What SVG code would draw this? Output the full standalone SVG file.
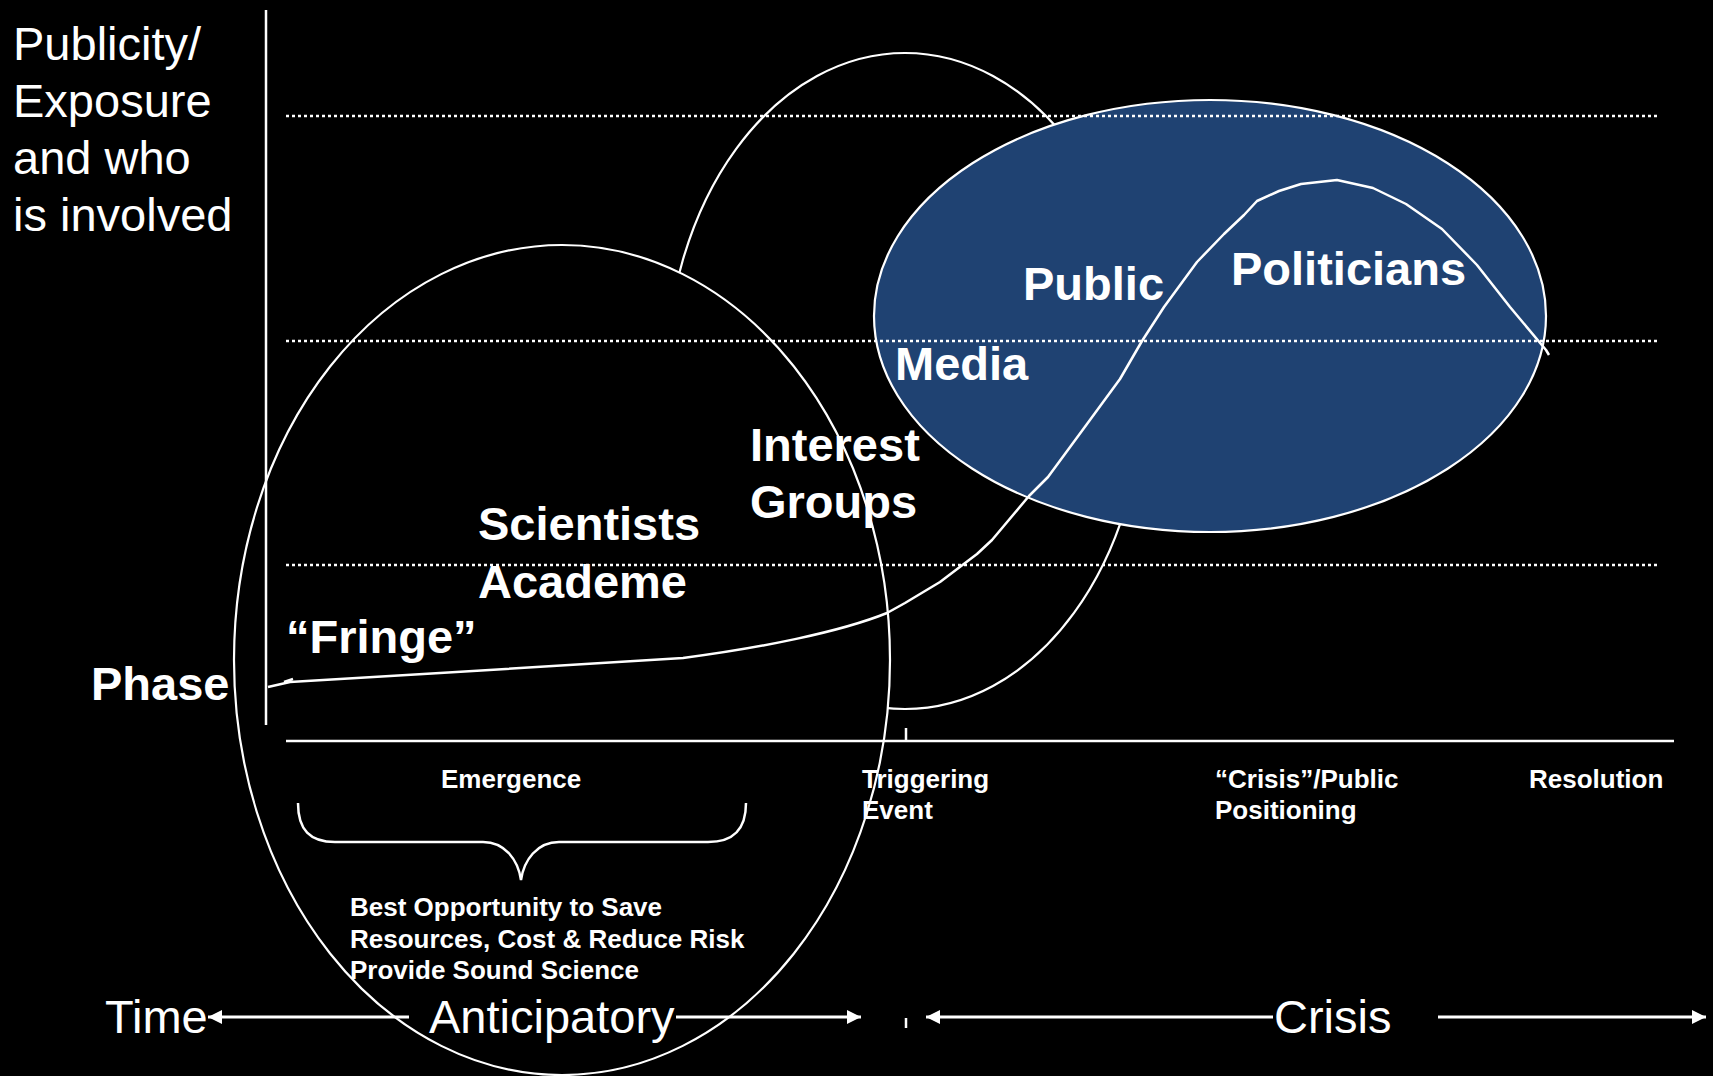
<svg xmlns="http://www.w3.org/2000/svg" width="1713" height="1076" viewBox="0 0 1713 1076">
  <style>
    text { font-family: "Liberation Sans", Arial, sans-serif; fill: #ffffff; }
    .big { font-size: 47px; }
    .bigb { font-size: 47px; font-weight: bold; }
    .small { font-size: 26px; font-weight: bold; }
    .outline { stroke: #ffffff; stroke-width: 2.2; }
    .dot { stroke: #ffffff; stroke-width: 2.5; stroke-dasharray: 3 3; fill: none; }
    .solid { stroke: #ffffff; stroke-width: 2.5; fill: none; }
    .arrow { stroke: #ffffff; stroke-width: 3; fill: none; marker-end: url(#head); }
  </style>
  <defs>
    <marker id="head" viewBox="0 0 14 14" refX="14" refY="7" markerWidth="14" markerHeight="14" markerUnits="userSpaceOnUse" orient="auto">
      <path d="M0,0 L14,7 L0,14 z" fill="#ffffff"/>
    </marker>
  </defs>
  <rect x="0" y="0" width="1713" height="1076" fill="#000000"/>

  <g id="interest-groups-ellipse">
    <ellipse class="outline" cx="905" cy="381" rx="239" ry="328" fill="#000000"/>
  </g>
  <g id="scientists-ellipse">
    <ellipse class="outline" cx="562" cy="660" rx="328" ry="415" fill="#000000"/>
  </g>
  <g id="public-ellipse">
    <ellipse class="outline" cx="1210" cy="316" rx="336" ry="216" fill="#1f4272"/>
  </g>

  <g id="axes">
    <line class="solid" x1="266" y1="10" x2="266" y2="725"/>
    <line class="solid" x1="286" y1="741" x2="1674" y2="741"/>
    <line class="solid" x1="906" y1="728" x2="906" y2="741" stroke-width="2"/>
    <line class="solid" x1="906" y1="1018" x2="906" y2="1028" stroke-width="2"/>
    <line class="dot" x1="286" y1="116" x2="1658" y2="116"/>
    <line class="dot" x1="286" y1="341" x2="1658" y2="341"/>
    <line class="dot" x1="286" y1="565" x2="1658" y2="565"/>
  </g>

  <g id="connectors">
    <path class="solid" stroke-linejoin="round" d="M268,687 L290,682 L440,673 L683,658 C760,648 840,632 887,613 L905,603 L940,582 L977,554 L992,540 L1029,496 L1048,477 L1087,424 L1120,379 L1142,341 L1164,307 L1197,262 L1224,234 L1244,215 L1257,201 L1279,191 L1301,184 L1337,180 L1373,188 L1406,204 L1442,229 L1477,265 L1510,307 L1546,350 L1549,355"/>
    <line class="solid" x1="284" y1="682" x2="293" y2="679" stroke-width="2"/>
    <path class="solid" stroke-width="2.5" d="M298,803 C298,830 310,842 335,842 L483,842 C505,842 518,860 521,880 C524,860 537,842 559,842 L708,842 C733,842 746,830 746,803"/>
    <line class="arrow" x1="409" y1="1017" x2="208" y2="1017"/>
    <line class="arrow" x1="676" y1="1017" x2="861" y2="1017"/>
    <line class="arrow" x1="1273" y1="1017" x2="926" y2="1017"/>
    <line class="arrow" x1="1438" y1="1017" x2="1706" y2="1017"/>
  </g>

  <g id="y-label">
    <text class="big" x="13" y="60">Publicity/</text>
    <text class="big" x="13" y="117">Exposure</text>
    <text class="big" x="13" y="174">and who</text>
    <text class="big" x="13" y="231">is involved</text>
  </g>

  <g id="actors">
    <text class="bigb" x="1023" y="300">Public</text>
    <text class="bigb" x="1231" y="285">Politicians</text>
    <text class="bigb" x="895" y="380">Media</text>
    <text class="bigb" x="750" y="461">Interest</text>
    <text class="bigb" x="750" y="518">Groups</text>
    <text class="bigb" x="478" y="540">Scientists</text>
    <text class="bigb" x="478" y="598">Academe</text>
    <text class="bigb" x="286" y="653">“Fringe”</text>
    <text class="bigb" x="91" y="700">Phase</text>
  </g>

  <g id="phases">
    <text class="small" x="441" y="788">Emergence</text>
    <text class="small" x="862" y="788">Triggering</text>
    <text class="small" x="862" y="819">Event</text>
    <text class="small" x="1215" y="788">“Crisis”/Public</text>
    <text class="small" x="1215" y="819">Positioning</text>
    <text class="small" x="1529" y="788">Resolution</text>
  </g>

  <g id="opportunity">
    <text class="small" x="350" y="916">Best Opportunity to Save</text>
    <text class="small" x="350" y="948">Resources, Cost &amp; Reduce Risk</text>
    <text class="small" x="350" y="979">Provide Sound Science</text>
  </g>

  <g id="time-axis">
    <text class="big" x="105" y="1033">Time</text>
    <text class="big" x="429" y="1033">Anticipatory</text>
    <text class="big" x="1274" y="1033">Crisis</text>
  </g>
</svg>
